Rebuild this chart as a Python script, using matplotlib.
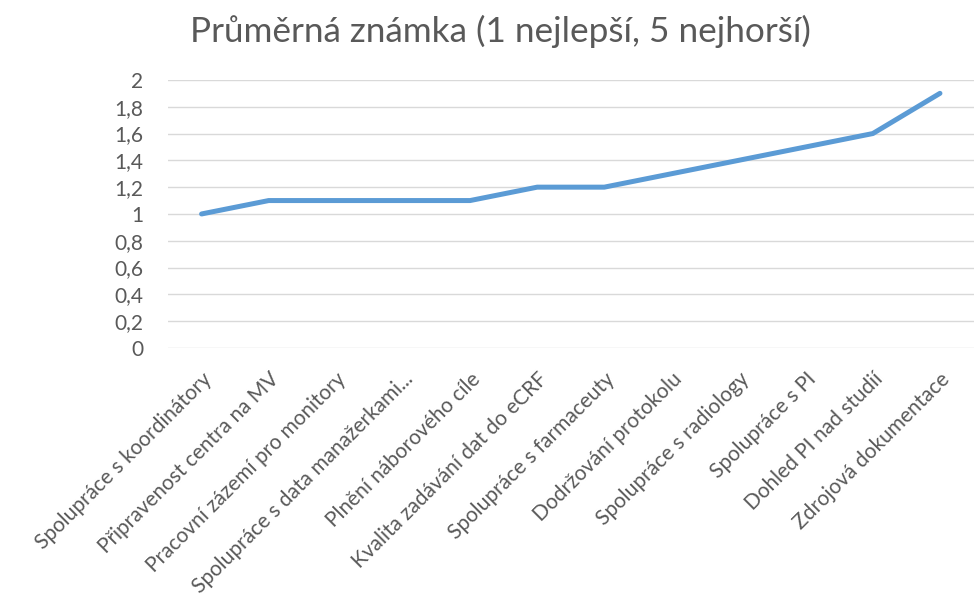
import matplotlib.pyplot as plt
from matplotlib.ticker import FuncFormatter

plt.rcParams['font.family'] = ['Lato', 'DejaVu Sans']

# Data
kategorie = [
    "Spolupráce s koordinátory",
    "Připravenost centra na MV",
    "Pracovní zázemí pro monitory",
    "Spolupráce s data manažerkami...",
    "Plnění náborového cíle",
    "Kvalita zadávání dat do eCRF",
    "Spolupráce s farmaceuty",
    "Dodržování protokolu",
    "Spolupráce s radiology",
    "Spolupráce s PI",
    "Dohled PI nad studií",
    "Zdrojová dokumentace",
]
znamky = [1.0, 1.1, 1.1, 1.1, 1.1, 1.2, 1.2, 1.3, 1.4, 1.5, 1.6, 1.9]
y_ticks = [0, 0.2, 0.4, 0.6, 0.8, 1.0, 1.2, 1.4, 1.6, 1.8, 2.0]

fig = plt.figure(figsize=(9.74, 6.01), dpi=100)
ax = fig.add_axes([0.1725, 0.421, 0.827, 0.446])

x = list(range(len(kategorie)))
ax.plot(x, znamky, color='#5b9bd5', linewidth=3.6, solid_capstyle='round', zorder=3)

ax.set_xlim(-0.5, len(kategorie) - 0.5)
ax.set_ylim(0, 2)
ax.set_yticks(y_ticks)
ax.yaxis.set_major_formatter(FuncFormatter(lambda v, p: f"{v:g}".replace('.', ',')))
ax.grid(axis='y', color='#d9d9d9', linewidth=1.0)
ax.set_axisbelow(True)

for s in ax.spines.values():
    s.set_visible(False)
ax.tick_params(axis='both', length=0, labelsize=15, colors='#595959')
ax.tick_params(axis='y', pad=18)

ax.set_xticks(x)
ax.set_xticklabels(kategorie, rotation=45, ha='right', rotation_mode='anchor')
ax.tick_params(axis='x', pad=15)

fig.text(0.514, 0.947, "Průměrná známka (1 nejlepší, 5 nejhorší)",
         ha='center', va='center', fontsize=25.3, color='#595959')

fig.savefig('out.png', dpi=100)
